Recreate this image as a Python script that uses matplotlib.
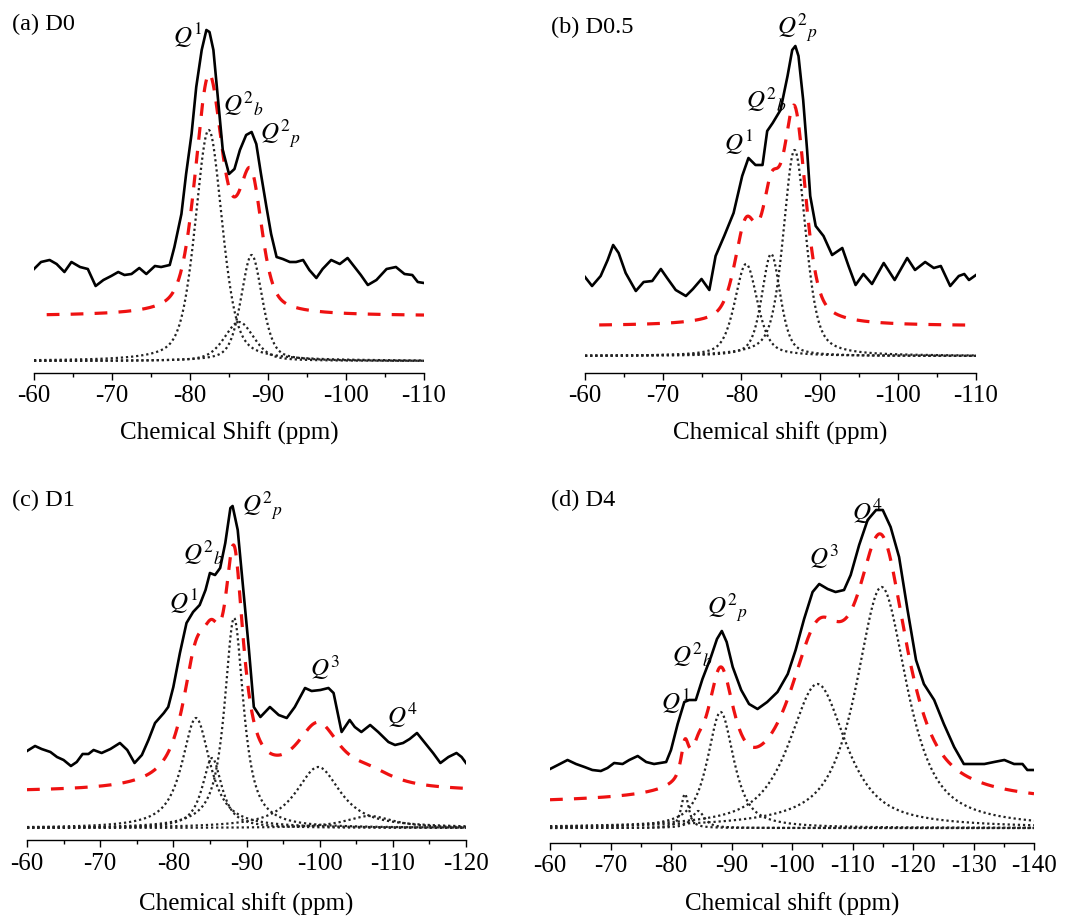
import numpy as np
import matplotlib.pyplot as plt
from matplotlib.ticker import MultipleLocator

plt.rcParams['font.family'] = ['Liberation Serif', 'DejaVu Serif']
plt.rcParams['mathtext.fontset'] = 'stix'
plt.rcParams['axes.unicode_minus'] = False

ppm_a = [-60.0, -60.9, -62.0, -62.9, -63.9, -64.8, -65.9, -66.9, -67.9, -68.9, -69.9, -70.8,
         -71.6, -72.5, -73.5, -74.4, -75.5, -76.3, -77.4, -78.0, -78.9, -79.5, -80.2, -80.8,
         -81.5, -82.1, -82.5, -83.0, -83.6, -84.2, -85.0, -85.7, -86.4, -87.2, -87.9, -88.5,
         -89.1, -89.8, -90.4, -91.1, -91.9, -92.8, -93.6, -94.5, -95.3, -96.2, -97.0, -98.1,
         -99.2, -100.2, -101.1, -101.9, -102.8, -103.9, -105.2, -106.4, -107.5, -108.5, -109.2, -110.0]
int_a = [104, 111, 113, 109, 101, 111, 106, 104, 87, 93, 97, 101,
         98, 99, 105, 99, 107, 106, 108, 126, 159, 199, 239, 286,
         323, 343, 341, 323, 273, 223, 199, 204, 223, 238, 241, 229,
         199, 166, 139, 116, 114, 111, 111, 113, 103, 95, 104, 113,
         109, 115, 106, 98, 88, 93, 104, 106, 99, 98, 91, 90]

ppm_b = [-60.0, -60.9, -62.0, -62.9, -63.6, -64.3, -65.2, -66.5, -67.5, -68.6, -69.7, -70.5,
         -71.6, -72.9, -73.8, -74.9, -75.9, -76.7, -77.8, -79.0, -80.1, -80.9, -81.8, -82.7,
         -83.3, -84.0, -85.0, -85.9, -86.5, -86.9, -87.3, -87.9, -88.4, -88.8, -89.5, -90.5,
         -91.6, -92.9, -93.7, -94.6, -95.6, -96.7, -98.2, -99.6, -101.2, -102.2, -103.5, -104.6,
         -105.5, -106.7, -107.8, -108.5, -109.1, -110.0]
int_b = [96, 87, 97, 113, 128, 120, 100, 82, 91, 92, 104, 95,
         83, 77, 84, 94, 83, 117, 137, 160, 197, 215, 208, 208,
         242, 250, 263, 297, 323, 327, 317, 273, 223, 177, 147, 137,
         118, 125, 107, 88, 99, 89, 110, 93, 115, 103, 111, 105,
         107, 87, 97, 99, 93, 98]

ppm_c = [-60.0, -61.1, -62.0, -63.2, -64.1, -65.0, -66.0, -66.8, -67.6, -68.4, -69.1, -70.2,
         -71.4, -72.7, -73.7, -74.7, -75.7, -76.6, -77.5, -78.7, -79.3, -80.0, -80.9, -81.8,
         -82.7, -83.6, -84.4, -85.0, -85.7, -86.4, -87.1, -87.8, -88.1, -88.8, -89.4, -90.3,
         -91.0, -91.9, -93.2, -94.4, -95.5, -96.6, -98.0, -98.9, -100.1, -101.2, -101.9, -103.0,
         -104.1, -104.8, -105.7, -106.9, -108.0, -109.4, -110.3, -111.4, -112.3, -113.3, -114.4, -115.5,
         -116.5, -117.6, -118.7, -119.4, -120.0]
int_c = [89, 94, 91, 88, 83, 80, 74, 78, 86, 86, 90, 87,
         91, 97, 90, 77, 85, 100, 117, 127, 133, 153, 187, 217,
         228, 235, 250, 267, 265, 272, 297, 332, 334, 310, 263, 193,
         133, 123, 133, 125, 122, 133, 152, 149, 150, 152, 147, 108,
         120, 113, 108, 115, 108, 98, 95, 97, 101, 107, 97, 87,
         77, 83, 87, 83, 77]

ppm_d = [-60.0, -61.3, -62.9, -64.3, -65.7, -67.0, -68.4, -69.5, -70.6, -72.0, -73.1, -74.5,
         -75.9, -77.2, -79.2, -80.0, -81.1, -82.2, -83.0, -84.1, -85.2, -86.6, -87.6, -88.4,
         -89.2, -90.2, -91.6, -92.9, -94.3, -95.9, -97.6, -99.3, -100.6, -102.0, -103.4, -104.5,
         -105.9, -107.2, -108.6, -109.7, -111.1, -112.5, -113.9, -115.0, -116.3, -117.7, -119.1, -120.5,
         -121.8, -123.5, -125.1, -126.8, -128.4, -130.1, -131.8, -133.4, -135.1, -136.7, -138.1, -138.9,
         -140.0]
int_d = [74, 78, 83, 79, 76, 73, 72, 75, 80, 79, 83, 87,
         81, 79, 81, 93, 119, 141, 143, 143, 164, 186, 204, 212,
         201, 176, 153, 139, 134, 141, 151, 169, 193, 224, 251, 259,
         254, 251, 253, 268, 298, 323, 333, 333, 316, 286, 233, 183,
         159, 143, 119, 96, 79, 79, 79, 81, 83, 79, 79, 73,
         73]

# ---- deconvolved components: centre (ppm), FWHM (ppm), height (a.u.) ----
center_a = [-82.4, -86.3, -87.9]
fwhm_a = [4.1, 4.5, 3.2]
height_a = [231, 39, 106]

center_b = [-80.6, -83.8, -86.8]
fwhm_b = [3.4, 2.8, 3.4]
height_b = [92, 102, 206]

center_c = [-83.1, -85.3, -88.3, -99.8, -106.8]
fwhm_c = [4.6, 3.2, 3.1, 7.3, 8.0]
height_c = [110, 70, 210, 61, 12]

center_d = [-82.3, -84.5, -88.2, -104.2, -114.8]
fwhm_d = [1.5, 2.5, 5.2, 11.2, 10.0]
height_d = [34, 17, 116, 144, 241]

Q1 = r'$Q^{\mathit{1}}$'
Q2b = r'$Q^{\mathit{2}}{}_{b}$'
Q2p = r'$Q^{\mathit{2}}{}_{p}$'
Q3 = r'$Q^{\mathit{3}}$'
Q4 = r'$Q^{\mathit{4}}$'


def pvoigt(x, c, w, h, eta):
    u = (x - c) / (w / 2.0)
    return h * (eta / (1 + u ** 2) + (1 - eta) * np.exp(-np.log(2) * u ** 2))


W, H = 1069, 919
fig = plt.figure(figsize=(W / 100, H / 100), dpi=100)

# (title, title pos px, xlabel, labelpad, xmax, box px (l, r, bottom, top), exp data, components,
#  lorentz fraction, component baseline, fit baseline, fit start, peak labels)
panels = [
    ('(a) D0', (12, 30), 'Chemical Shift (ppm)', 10, -110, (34, 424, 373, 10),
     ppm_a, int_a, center_a, fwhm_a, height_a, 0.45, 12, 57, -61.6,
     [(Q1, -77.8, 329), (Q2b, -84.2, 261), (Q2p, -89.0, 232)]),
    ('(b) D0.5', (551, 33), 'Chemical shift (ppm)', 10, -110, (585, 976, 373, 10),
     ppm_b, int_b, center_b, fwhm_b, height_b, 0.5, 17, 47, -61.8,
     [(Q2p, -84.6, 338), (Q2b, -80.6, 265), (Q1, -77.8, 222)]),
    ('(c) D1', (12, 506), 'Chemical shift (ppm)', 13, -120, (27, 466, 840, 470),
     ppm_c, int_c, center_c, fwhm_c, height_c, 0.9, 12, 48, -60,
     [(Q2p, -89.4, 327), (Q2b, -81.3, 279), (Q1, -79.4, 230), (Q3, -98.7, 164), (Q4, -109.2, 116)]),
    ('(d) D4', (551, 506), 'Chemical shift (ppm)', 11, -140, (550, 1034, 843, 473),
     ppm_d, int_d, center_d, fwhm_d, height_d, 0.8, 15, 39, -60,
     [(Q4, -109.9, 323), (Q3, -102.8, 278), (Q2p, -86.0, 228), (Q2b, -80.2, 180), (Q1, -78.3, 133)]),
]

for (title, tpos, xlab, lpad, xmax, box, xp, yp, cen, fw, hh, eta, base, fitbase, fit0, labels) in panels:
    l, r, b, t = box
    ax = fig.add_axes([l / W, 1 - b / H, (r - l) / W, (b - t) / H])
    x = np.linspace(-60, xmax, 800)
    total = np.zeros_like(x)
    for c, w, h in zip(cen, fw, hh):
        comp = pvoigt(x, c, w, h, eta)
        total += comp
        ax.plot(x, base + comp, color='#222222', lw=1.6, ls=(0, (1, 1.3)))
    m = x <= fit0
    ax.plot(x[m], fitbase + total[m], color='#ee1111', lw=2.3, ls=(0, (4, 3.5)))
    ax.plot(xp, yp, color='black', lw=1.9)

    for txt, lx, ly in labels:
        ax.text(lx, ly, txt, fontsize=18, ha='left', va='baseline')

    ax.set_xlim(-60, xmax)
    ax.set_ylim(0, b - t)
    ax.xaxis.set_major_locator(MultipleLocator(10))
    ax.xaxis.set_minor_locator(MultipleLocator(5))
    ax.tick_params(axis='x', which='major', direction='out', length=5, width=1, labelsize=18, pad=4)
    ax.tick_params(axis='x', which='minor', direction='out', length=3, width=1)
    ax.set_yticks([])
    for s in ('left', 'top', 'right'):
        ax.spines[s].set_visible(False)
    ax.spines['bottom'].set_linewidth(1)
    ax.set_xlabel(xlab, fontsize=18, labelpad=lpad)
    ax.patch.set_alpha(0)
    fig.text(tpos[0] / W, 1 - tpos[1] / H, title, fontsize=17.5, ha='left', va='baseline')

fig.savefig('out.png', dpi=100)
